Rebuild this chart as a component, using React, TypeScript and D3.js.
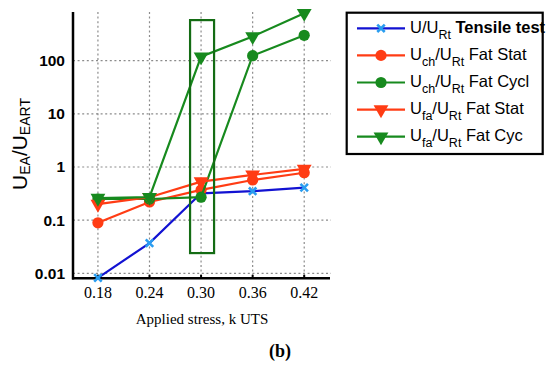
import * as d3 from "d3";
import { useEffect, useRef } from "react";

// applied stress values (x)
const stress = [0.18, 0.24, 0.3, 0.36, 0.42];
const xTickLabels = ["0.18", "0.24", "0.30", "0.36", "0.42"];
const yTicks = [0.01, 0.1, 1, 10, 100];
const yTickLabels = ["0.01", "0.1", "1", "10", "100"];

// energy ratios
const tensile = [0.0082, 0.037, 0.32, 0.35, 0.41];
const chStat = [0.089, 0.22, 0.37, 0.57, 0.78];
const chCycl = [0.25, 0.25, 0.27, 124, 300];
const faStat = [0.2, 0.27, 0.53, 0.71, 0.92];
const faCyc = [0.26, 0.27, 119, 285, 780];

// highlighted column around 0.30
const highlight = { x: 0.3, top: 580, bottom: 0.024 };

const series = [
  {
    label: [{ t: "U/U" }, { t: "Rt", sub: true }, { t: " Tensile test", bold: true }],
    values: tensile,
    line: "#1212d2",
    marker: "x",
    markerColor: "#2a9df0",
  },
  {
    label: [{ t: "U" }, { t: "ch", sub: true }, { t: "/U" }, { t: "Rt", sub: true }, { t: " Fat Stat" }],
    values: chStat,
    line: "#ff3c14",
    marker: "circle",
    markerColor: "#ff3c14",
  },
  {
    label: [{ t: "U" }, { t: "ch", sub: true }, { t: "/U" }, { t: "Rt", sub: true }, { t: " Fat Cycl" }],
    values: chCycl,
    line: "#178a1e",
    marker: "circle",
    markerColor: "#178a1e",
  },
  {
    label: [{ t: "U" }, { t: "fa", sub: true }, { t: "/U" }, { t: "Rt", sub: true }, { t: " Fat Stat" }],
    values: faStat,
    line: "#ff3c14",
    marker: "triangle",
    markerColor: "#ff3c14",
  },
  {
    label: [{ t: "U" }, { t: "fa", sub: true }, { t: "/U" }, { t: "Rt", sub: true }, { t: " Fat Cyc" }],
    values: faCyc,
    line: "#178a1e",
    marker: "triangle",
    markerColor: "#178a1e",
  },
];

const sans = "'Liberation Sans', Arial, sans-serif";
const serif = "'Liberation Serif', 'Times New Roman', serif";

function drawMarker(g, kind, color, cx, cy) {
  if (kind === "x") {
    g.append("path")
      .attr("d", d3.symbol(d3.symbolX, 38)())
      .attr("transform", `translate(${cx},${cy})`)
      .attr("fill", "none")
      .attr("stroke", color)
      .attr("stroke-width", 2.6);
  } else if (kind === "circle") {
    g.append("circle").attr("cx", cx).attr("cy", cy).attr("r", 5.6).attr("fill", color);
  } else {
    g.append("path")
      .attr("d", d3.symbol(d3.symbolTriangle, 95)())
      .attr("transform", `translate(${cx},${cy}) rotate(180)`)
      .attr("fill", color);
  }
}

function writeRich(text, parts, subSize, subShift) {
  let offset = 0;
  parts.forEach((p) => {
    const shift = p.sub ? subShift : 0;
    const ts = text.append("tspan").attr("dy", shift - offset).text(p.t);
    if (p.sub) ts.attr("font-size", subSize);
    if (p.bold) ts.attr("font-weight", "bold");
    offset = shift;
  });
}

const App = () => {
  const ref = useRef(null);

  useEffect(() => {
    const svg = d3.select(ref.current);
    svg.selectAll("*").remove();

    const left = 73,
      right = 330,
      top = 12,
      bottom = 278.3;

    const x = d3.scaleLinear().domain([0.151, 0.45]).range([left, right]);
    const y = d3.scaleLog().domain([0.00805, 824]).range([bottom, top]);

    svg.append("rect").attr("width", 550).attr("height", 367).attr("fill", "#fff");

    // dotted grid
    const grid = svg.append("g").attr("stroke", "#8c8c8c").attr("stroke-width", 1.2).attr("stroke-dasharray", "2,2.6");
    stress.forEach((s) => {
      grid.append("line").attr("x1", x(s)).attr("x2", x(s)).attr("y1", top).attr("y2", bottom);
    });
    yTicks.forEach((v) => {
      grid.append("line").attr("x1", left).attr("x2", right + 1).attr("y1", y(v)).attr("y2", y(v));
    });

    // axes
    svg.append("line").attr("x1", left).attr("x2", left).attr("y1", top).attr("y2", bottom + 1.2)
      .attr("stroke", "#000").attr("stroke-width", 2.5);
    svg.append("line").attr("x1", left - 1).attr("x2", right).attr("y1", bottom).attr("y2", bottom)
      .attr("stroke", "#000").attr("stroke-width", 2.5);
    stress.forEach((s) => {
      svg.append("line").attr("x1", x(s)).attr("x2", x(s)).attr("y1", bottom).attr("y2", bottom - 3.5)
        .attr("stroke", "#000").attr("stroke-width", 2);
    });

    // tick labels
    svg.append("g")
      .selectAll("text")
      .data(stress)
      .join("text")
      .attr("x", (d) => x(d))
      .attr("y", 298)
      .attr("text-anchor", "middle")
      .attr("font-family", serif)
      .attr("font-size", 16)
      .text((d, i) => xTickLabels[i]);

    svg.append("g")
      .selectAll("text")
      .data(yTicks)
      .join("text")
      .attr("x", 65)
      .attr("y", (d) => y(d) + 5.5)
      .attr("text-anchor", "end")
      .attr("font-family", sans)
      .attr("font-weight", "bold")
      .attr("font-size", 15.5)
      .text((d, i) => yTickLabels[i]);

    // axis titles
    svg.append("text")
      .attr("x", 202)
      .attr("y", 324)
      .attr("text-anchor", "middle")
      .attr("font-family", serif)
      .attr("font-size", 15)
      .text("Applied stress, k UTS");

    const yl = svg.append("text")
      .attr("transform", "translate(27,144) rotate(-90)")
      .attr("text-anchor", "middle")
      .attr("font-family", sans)
      .attr("font-size", 21);
    writeRich(yl, [{ t: "U" }, { t: "EA", sub: true }, { t: "/U" }, { t: "EART", sub: true }], 14, 3);

    // series
    const lineGen = d3.line().x((d) => x(d[0])).y((d) => y(d[1]));
    series.forEach((s) => {
      const pts = stress.map((v, i) => [v, s.values[i]]);
      const g = svg.append("g");
      g.append("path")
        .attr("d", lineGen(pts))
        .attr("fill", "none")
        .attr("stroke", s.line)
        .attr("stroke-width", 2.2);
      pts.forEach((p) => drawMarker(g, s.marker, s.markerColor, x(p[0]), y(p[1])));
    });

    // highlight box
    svg.append("rect")
      .attr("x", x(highlight.x) - 11)
      .attr("y", y(highlight.top))
      .attr("width", 24)
      .attr("height", y(highlight.bottom) - y(highlight.top))
      .attr("fill", "none")
      .attr("stroke", "#146c14")
      .attr("stroke-width", 2.2);

    // legend
    const lg = svg.append("g");
    lg.append("rect")
      .attr("x", 346.7)
      .attr("y", 12.7)
      .attr("width", 196)
      .attr("height", 141.3)
      .attr("fill", "#fff")
      .attr("stroke", "#000")
      .attr("stroke-width", 2.2);
    series.forEach((s, i) => {
      const ry = 28.3 + i * 27.1;
      lg.append("line").attr("x1", 357).attr("x2", 405).attr("y1", ry).attr("y2", ry)
        .attr("stroke", s.line).attr("stroke-width", 2.2);
      drawMarker(lg, s.marker, s.markerColor, 381, ry);
      const t = lg.append("text")
        .attr("x", 410)
        .attr("y", ry + 4.2)
        .attr("font-family", sans)
        .attr("font-size", 16.5);
      writeRich(t, s.label, 12.5, 6.5);
    });

    // panel tag
    svg.append("text")
      .attr("x", 280)
      .attr("y", 357)
      .attr("text-anchor", "middle")
      .attr("font-family", serif)
      .attr("font-weight", "bold")
      .attr("font-size", 18)
      .text("(b)");
  }, []);

  return (
    <svg
      ref={ref}
      width={550}
      height={367}
      style={{ position: "absolute", left: 0, top: 0 }}
    />
  );
};

export default App;
